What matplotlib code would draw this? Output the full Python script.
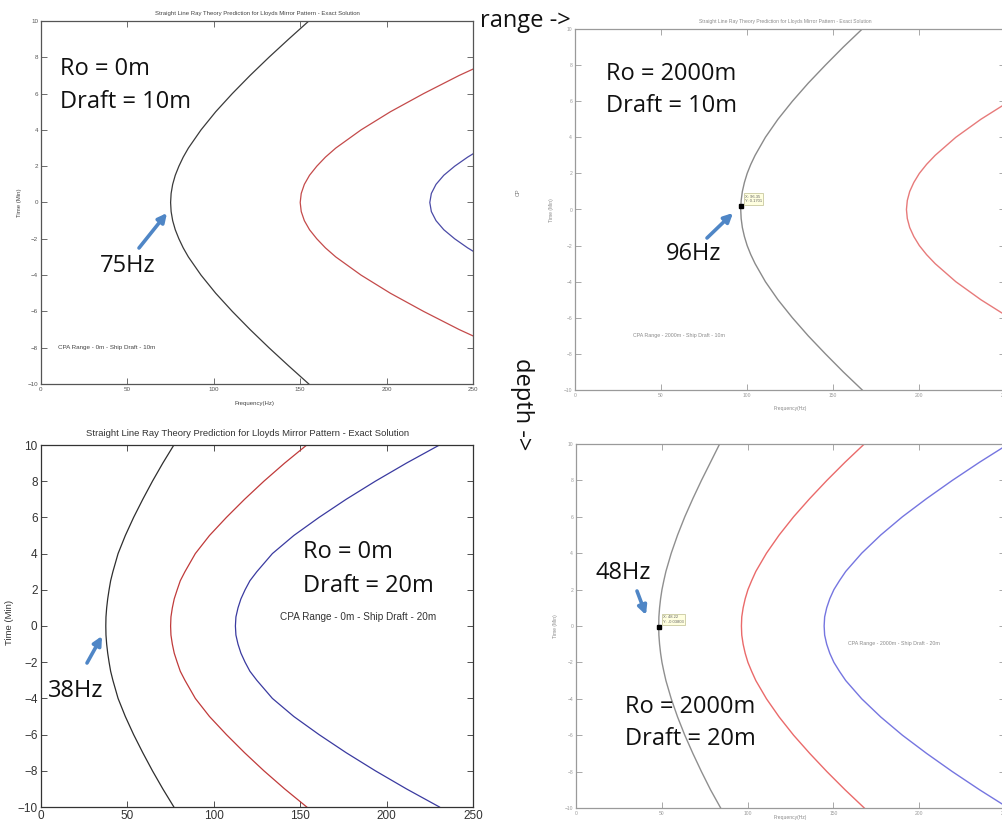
import matplotlib.pyplot as plt
from matplotlib.patches import FancyArrowPatch

W, H = 1003, 822

times = [-10, -9, -8, -7, -6, -5, -4, -3, -2.5, -2, -1.5, -1, -0.5, 0,
         0.5, 1, 1.5, 2, 2.5, 3, 4, 5, 6, 7, 8, 9, 10]

# CPA range 0 m, ship draft 10 m
a_black = [155.0, 143.3, 131.9, 121.0, 110.7, 101.1, 92.6, 85.3, 82.3, 79.8, 77.7, 76.2, 75.3, 75.0,
           75.3, 76.2, 77.7, 79.8, 82.3, 85.3, 92.6, 101.1, 110.7, 121.0, 131.9, 143.3, 155.0]
a_red_t = [-7.35, -7, -6, -5, -4, -3, -2.5, -2, -1.5, -1, -0.5, 0,
           0.5, 1, 1.5, 2, 2.5, 3, 4, 5, 6, 7, 7.35]
a_red = [250.0, 242.0, 221.4, 202.2, 185.2, 170.6, 164.6, 159.6, 155.4, 152.4, 150.6, 150.0,
         150.6, 152.4, 155.4, 159.6, 164.6, 170.6, 185.2, 202.2, 221.4, 242.0, 250.0]
a_blue_t = [-2.68, -2.5, -2, -1.5, -1, -0.5, 0, 0.5, 1, 1.5, 2, 2.5, 2.68]
a_blue = [250.0, 246.9, 239.4, 233.1, 228.6, 225.9, 225.0, 225.9, 228.6, 233.1, 239.4, 246.9, 250.0]

# CPA range 2000 m, ship draft 10 m
b_black = [167.0, 156.0, 145.6, 135.6, 126.4, 118.0, 110.7, 104.7, 102.2, 100.1, 98.5, 97.3, 96.6, 96.35,
           96.6, 97.3, 98.5, 100.1, 102.2, 104.7, 110.7, 118.0, 126.4, 135.6, 145.6, 156.0, 167.0]
b_red_t = [-5.84, -5, -4, -3, -2.5, -2, -1.5, -1, -0.5, 0, 0.5, 1, 1.5, 2, 2.5, 3, 4, 5, 5.84]
b_red = [250.0, 236.0, 221.4, 209.4, 204.4, 200.2, 197.0, 194.6, 193.2, 192.7,
         193.2, 194.6, 197.0, 200.2, 204.4, 209.4, 221.4, 236.0, 250.0]
b_tip = (96.35, 0.1701)

# CPA range 0 m, ship draft 20 m
c_black = [76.9, 70.5, 64.5, 58.9, 53.6, 48.8, 44.6, 41.6, 40.3, 39.4, 38.6, 38.0, 37.6, 37.5,
           37.6, 38.0, 38.6, 39.4, 40.3, 41.6, 44.6, 48.8, 53.6, 58.9, 64.5, 70.5, 76.9]
c_red = [153.8, 141.0, 129.0, 117.8, 107.3, 97.5, 89.3, 83.3, 80.6, 78.8, 77.1, 76.0, 75.2, 75.0,
         75.2, 76.0, 77.1, 78.8, 80.6, 83.3, 89.3, 97.5, 107.3, 117.8, 129.0, 141.0, 153.8]
c_blue = [230.6, 211.5, 193.5, 176.6, 160.9, 146.3, 133.9, 124.9, 120.9, 118.1, 115.7, 114.0, 112.8, 112.5,
          112.8, 114.0, 115.7, 118.1, 120.9, 124.9, 133.9, 146.3, 160.9, 176.6, 193.5, 211.5, 230.6]

# CPA range 2000 m, ship draft 20 m
d_black = [84.3, 78.4, 73.1, 68.1, 63.4, 59.2, 55.5, 52.4, 51.2, 50.1, 49.3, 48.7, 48.3, 48.2,
           48.3, 48.7, 49.3, 50.1, 51.2, 52.4, 55.5, 59.2, 63.4, 68.1, 73.1, 78.4, 83.7]
d_red = [168.0, 156.8, 146.2, 136.2, 126.8, 118.4, 111.0, 104.8, 102.4, 100.2, 98.6, 97.4, 96.6, 96.4,
         96.6, 97.4, 98.6, 100.2, 102.4, 104.8, 111.0, 118.4, 126.8, 136.2, 146.2, 156.8, 168.0]
d_blue_t = [-9.88, -9, -8, -7, -6, -5, -4, -3, -2.5, -2, -1.5, -1, -0.5, 0,
            0.5, 1, 1.5, 2, 2.5, 3, 4, 5, 6, 7, 8, 9, 9.88]
d_blue = [250.0, 235.2, 219.3, 204.3, 190.2, 177.6, 166.5, 157.2, 153.6, 150.3, 147.9, 146.1, 144.9, 144.6,
          144.9, 146.1, 147.9, 150.3, 153.6, 157.2, 166.5, 177.6, 190.2, 204.3, 219.3, 235.2, 250.0]
d_tip = (48.22, -0.03803)

freq_ticks = [0, 50, 100, 150, 200, 250]
time_ticks = [-10, -8, -6, -4, -2, 0, 2, 4, 6, 8, 10]

TITLE = "Straight Line Ray Theory Prediction for Lloyds Mirror Pattern - Exact Solution"
SMALL = ["Liberation Sans Narrow", "Liberation Sans", "DejaVu Sans"]
BIG = "Open Sans"
ARROW = "#4f86c6"


def px(x, y):
    return x / W, 1 - y / H


def box(left, top, right, bottom):
    return [left / W, 1 - bottom / H, (right - left) / W, (bottom - top) / H]


def setup(ax, edge, size, pad):
    ax.set_xlim(0, 250)
    ax.set_ylim(-10, 10)
    ax.set_xticks(freq_ticks)
    ax.set_yticks(time_ticks)
    ax.tick_params(direction="in", top=True, right=True, length=4, width=0.6,
                   color=edge, labelcolor=edge, labelsize=size, pad=pad)
    for lab in ax.get_xticklabels() + ax.get_yticklabels():
        lab.set_family(SMALL)
    for sp in ax.spines.values():
        sp.set_color(edge)
        sp.set_linewidth(0.9)


def arrow(tail, head):
    fig.add_artist(FancyArrowPatch(px(*tail), px(*head), transform=fig.transFigure,
                                   arrowstyle="-|>", mutation_scale=13, lw=2.6,
                                   color=ARROW, shrinkA=0, shrinkB=0))


def big(x, y, s, **kw):
    fig.text(*px(x, y), s, family=BIG, fontsize=17, color="#111111", va="baseline", **kw)


def small(x, y, s, size, color, **kw):
    fig.text(*px(x, y), s, family=SMALL, fontsize=size, color=color, va="center", **kw)


fig = plt.figure(figsize=(W / 100, H / 100), dpi=100)

# top left
ax_a = fig.add_axes(box(41, 21, 473, 384))
setup(ax_a, "#555555", 4.5, 2)
ax_a.plot(a_black, times, color="#3a3a3a", lw=0.9)
ax_a.plot(a_red, a_red_t, color="#c44a4a", lw=0.9)
ax_a.plot(a_blue, a_blue_t, color="#4a4aa6", lw=0.9)
small(257, 13, TITLE, 4.3, "#444444", ha="center")
small(254, 403, "Frequency(Hz)", 4.3, "#444444", ha="center")
small(20, 203, "Time (Min)", 4.3, "#444444", ha="center", rotation=90)
small(58, 347, "CPA Range - 0m - Ship Draft - 10m", 4.5, "#444444")
big(60, 75, "Ro = 0m")
big(60, 108, "Draft = 10m")
big(100, 272, "75Hz")
arrow((139, 248), (167, 213))

# top right
ax_b = fig.add_axes(box(575, 29, 1005, 390))
setup(ax_b, "#9a9a9a", 3.6, 2)
ax_b.plot(b_black, times, color="#8a8a8a", lw=1.0)
ax_b.plot(b_red, b_red_t, color="#e77a7a", lw=1.0)
ax_b.plot(*b_tip, marker="s", ms=3, color="black")
ax_b.annotate(f"X: {b_tip[0]:.2f}\nY: {b_tip[1]:.4f}", b_tip, xytext=(3, 3),
              textcoords="offset points", family=SMALL, fontsize=3, color="#666666",
              bbox=dict(boxstyle="square,pad=0.3", fc="#ffffe0", ec="#c9c9a0", lw=0.6))
small(785, 21, TITLE, 3.6, "#8a8a8a", ha="center")
small(790, 408, "Frequency(Hz)", 3.6, "#8a8a8a", ha="center")
small(551, 210, "Time (Min)", 3.6, "#8a8a8a", ha="center", rotation=90)
small(518, 192, "CP", 4, "#777777", ha="center", rotation=90)
small(633, 335, "CPA Range - 2000m - Ship Draft - 10m", 3.8, "#8a8a8a")
big(606, 80, "Ro = 2000m")
big(606, 112, "Draft = 10m")
big(666, 260, "96Hz")
arrow((707, 238), (733, 213))

# bottom left
ax_c = fig.add_axes(box(41, 445, 473, 807))
setup(ax_c, "#333333", 8.5, 2.5)
ax_c.plot(c_black, times, color="#2e2e2e", lw=0.9)
ax_c.plot(c_red, times, color="#c03a3a", lw=0.9)
ax_c.plot(c_blue, times, color="#3a3aa0", lw=0.9)
small(248, 433, TITLE, 6.8, "#333333", ha="center")
small(10, 622, "Time (Min)", 6.8, "#333333", ha="center", rotation=90)
small(280, 617, "CPA Range - 0m - Ship Draft - 20m", 7.2, "#333333")
big(303, 558, "Ro = 0m")
big(303, 592, "Draft = 20m")
big(48, 697, "38Hz")
arrow((87, 663), (102, 636))

# bottom right
ax_d = fig.add_axes(box(576, 444, 1005, 808))
setup(ax_d, "#9a9a9a", 3.6, 2)
ax_d.plot(d_black, times, color="#8f8f8f", lw=1.0)
ax_d.plot(d_red, times, color="#ea6a6a", lw=1.0)
ax_d.plot(d_blue, d_blue_t, color="#7575e0", lw=1.0)
ax_d.plot(*d_tip, marker="s", ms=3, color="black")
ax_d.annotate(f"X: {d_tip[0]:.2f}\nY: {d_tip[1]:.5f}", d_tip, xytext=(3, 3),
              textcoords="offset points", family=SMALL, fontsize=3, color="#666666",
              bbox=dict(boxstyle="square,pad=0.3", fc="#ffffe0", ec="#c9c9a0", lw=0.6))
small(556, 626, "Time (Min)", 3.6, "#8a8a8a", ha="center", rotation=90)
small(790, 817, "Frequency(Hz)", 3.6, "#8a8a8a", ha="center")
small(848, 643, "CPA Range - 2000m - Ship Draft - 20m", 3.8, "#8a8a8a")
big(596, 579, "48Hz")
arrow((637, 591), (646, 615))
big(625, 713, "Ro = 2000m")
big(625, 745, "Draft = 20m")

# axis direction notes between panels
big(480, 27, "range ->")
fig.text(*px(522, 358), "depth ->", family=BIG, fontsize=17, color="#111111",
         rotation=-90, ha="center", va="top")

fig.savefig("out.png", dpi=100)
